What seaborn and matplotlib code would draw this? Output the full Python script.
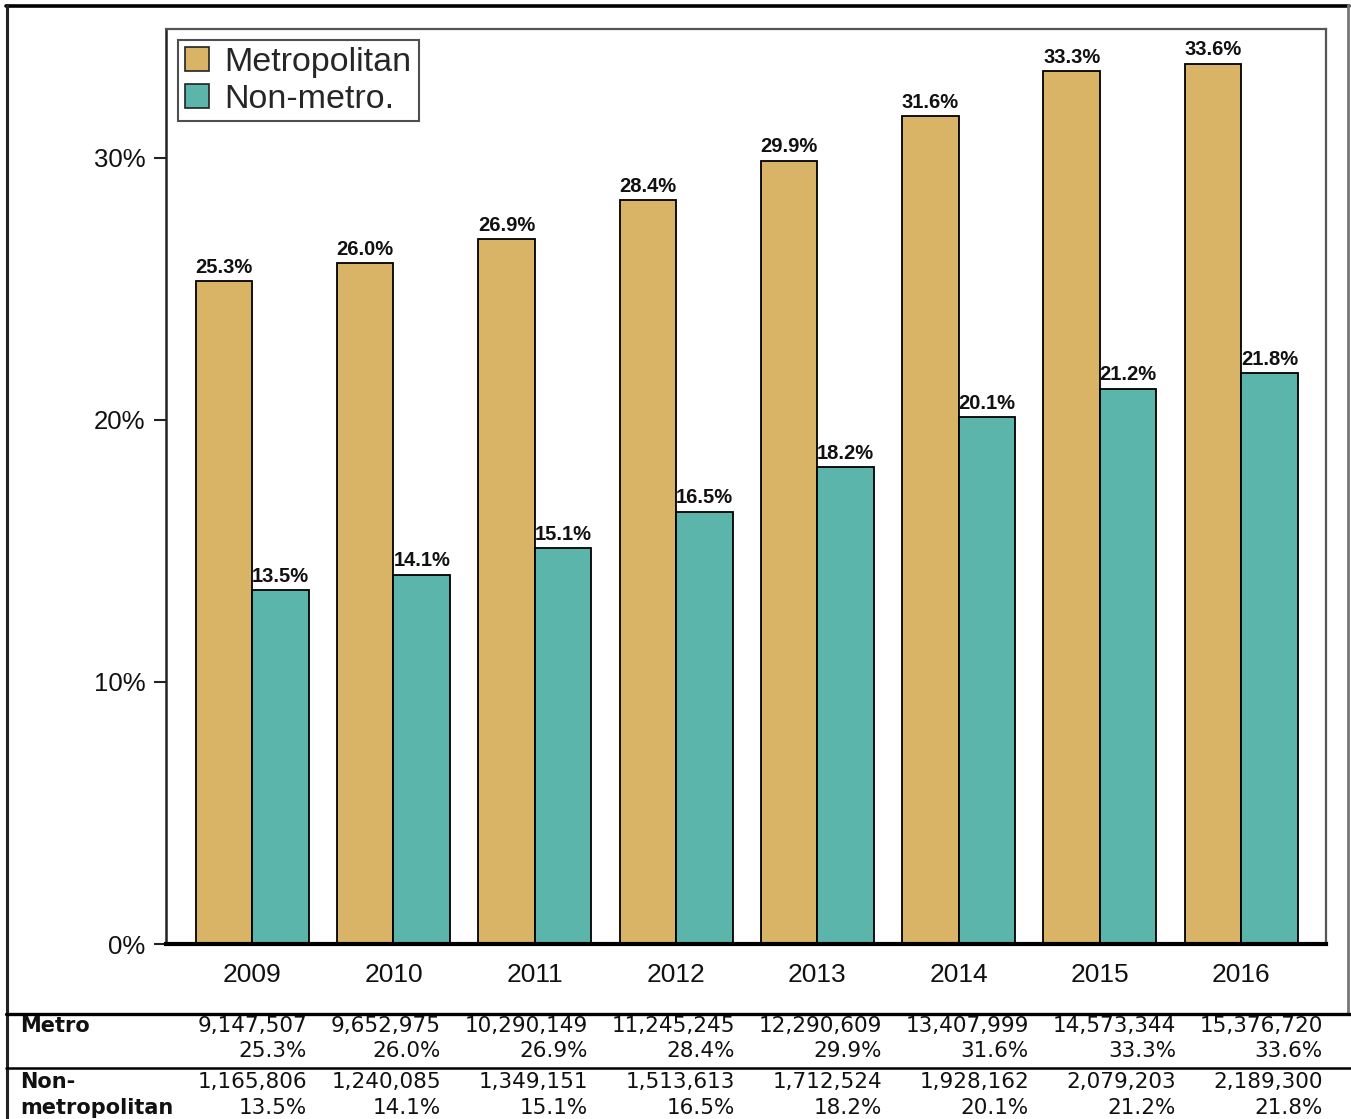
import matplotlib
matplotlib.use("Agg")
import matplotlib.pyplot as plt
from matplotlib.lines import Line2D
import seaborn as sns
import pandas as pd

# Share of residents by year, metropolitan vs non-metropolitan
years = ["2009", "2010", "2011", "2012", "2013", "2014", "2015", "2016"]
metro_pct = [25.3, 26.0, 26.9, 28.4, 29.9, 31.6, 33.3, 33.6]
nonmetro_pct = [13.5, 14.1, 15.1, 16.5, 18.2, 20.1, 21.2, 21.8]
metro_counts = ["9,147,507", "9,652,975", "10,290,149", "11,245,245",
                "12,290,609", "13,407,999", "14,573,344", "15,376,720"]
nonmetro_counts = ["1,165,806", "1,240,085", "1,349,151", "1,513,613",
                   "1,712,524", "1,928,162", "2,079,203", "2,189,300"]
series_names = ["Metropolitan", "Non-metro."]
y_ticks = [0, 10, 20, 30]

TAN = "#D9B366"
TEAL = "#5BB5AB"

df = pd.DataFrame({
    "year": years * 2,
    "pct": metro_pct + nonmetro_pct,
    "group": [series_names[0]] * len(years) + [series_names[1]] * len(years),
})

sns.set_theme(style="white")
plt.rcParams["font.family"] = ["Liberation Sans", "DejaVu Sans"]

W, H = 1351, 1119
fig = plt.figure(figsize=(W / 100, H / 100), dpi=100)

ax_l, ax_r, ax_t, ax_b = 166, 1326, 29, 944
ax = fig.add_axes([ax_l / W, 1 - ax_b / H, (ax_r - ax_l) / W, (ax_b - ax_t) / H])

sns.barplot(data=df, x="year", y="pct", hue="group", order=years,
            hue_order=series_names, palette=[TAN, TEAL], saturation=1,
            edgecolor="black", linewidth=1.3, width=0.8, ax=ax)

for cont in ax.containers:
    ax.bar_label(cont, fmt="%.1f%%", padding=3, fontsize=14.5,
                 fontweight="bold", color="#111111")

ax.set_xlim(-0.61, 7.6)
ax.set_ylim(0, 34.92)
ax.set_yticks(y_ticks)
ax.set_yticklabels([f"{t}%" for t in y_ticks])
ax.set_xlabel("")
ax.set_ylabel("")

ax.tick_params(axis="y", which="both", left=True, length=9, width=1.5,
               pad=6, labelsize=18.5, color="#222222", labelcolor="#111111")
ax.tick_params(axis="x", which="both", bottom=False, length=0, pad=14,
               labelsize=19, labelcolor="#111111")

ax.spines["left"].set_color("#222222")
ax.spines["left"].set_linewidth(1.8)
ax.spines["bottom"].set_color("black")
ax.spines["bottom"].set_linewidth(3.0)
for side in ["top", "right"]:
    ax.spines[side].set_color("#555555")
    ax.spines[side].set_linewidth(1.6)

handles, labels = ax.get_legend_handles_labels()
leg = ax.legend(handles, labels, loc="upper left",
                bbox_to_anchor=(12 / (ax_r - ax_l), 1 - 11 / (ax_b - ax_t)),
                borderaxespad=0, fontsize=24.5, frameon=True, fancybox=False,
                handlelength=0.72, handleheight=0.72, handletextpad=0.45,
                borderpad=0.2, labelspacing=0.17)
leg.get_frame().set_edgecolor("#222222")
leg.get_frame().set_linewidth(1.5)
for patch in leg.get_patches():
    patch.set_edgecolor("#222222")
    patch.set_linewidth(1.2)


def fx(px):
    return px / W


def fy(py):
    return 1 - py / H


# outer frame around the chart
fig.add_artist(Line2D([fx(6), fx(1349)], [fy(5.5), fy(5.5)], color="black", lw=2.6))
fig.add_artist(Line2D([fx(7), fx(7)], [fy(5), fy(H)], color="#222222", lw=2.2))
fig.add_artist(Line2D([fx(1347.5), fx(1347.5)], [fy(5), fy(1013)], color="#777777", lw=2.0))

# data table below the chart
fig.add_artist(Line2D([fx(6), fx(W)], [fy(1013.5), fy(1013.5)], color="black", lw=2.4))
fig.add_artist(Line2D([fx(6), fx(W)], [fy(1067.5), fy(1067.5)], color="black", lw=1.8))

table_font = dict(family=["DejaVu Sans"], color="#111111")
col_right = [307, 441, 588, 735, 882, 1029, 1176, 1323]
row_base = [1032, 1057, 1088, 1114]

fig.text(fx(20), fy(row_base[0]), "Metro", ha="left", va="baseline",
         fontweight="bold", fontsize=15, **table_font)
fig.text(fx(20), fy(row_base[2]), "Non-", ha="left", va="baseline",
         fontweight="bold", fontsize=15, **table_font)
fig.text(fx(20), fy(row_base[3]), "metropolitan", ha="left", va="baseline",
         fontweight="bold", fontsize=15, **table_font)

for i, xr in enumerate(col_right):
    fig.text(fx(xr), fy(row_base[0]), metro_counts[i], ha="right", va="baseline",
             fontsize=15.5, **table_font)
    fig.text(fx(xr), fy(row_base[1]), f"{metro_pct[i]:.1f}%", ha="right", va="baseline",
             fontsize=15.5, **table_font)
    fig.text(fx(xr), fy(row_base[2]), nonmetro_counts[i], ha="right", va="baseline",
             fontsize=15.5, **table_font)
    fig.text(fx(xr), fy(row_base[3]), f"{nonmetro_pct[i]:.1f}%", ha="right", va="baseline",
             fontsize=15.5, **table_font)

fig.savefig("out.png", dpi=100, facecolor="white")
